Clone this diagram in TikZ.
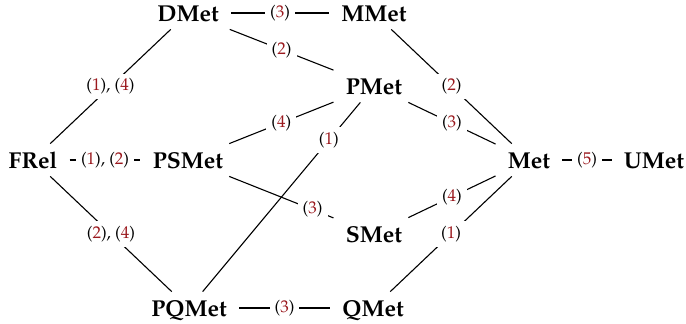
\documentclass[tikz,border=0pt]{standalone}
\usepackage[T1]{fontenc}
\renewcommand{\rmdefault}{ppl}
\definecolor{labred}{RGB}{155,25,30}
\newcommand{\rn}[1]{(\textcolor{labred}{#1})}
\tikzset{
  cls/.style={inner xsep=6pt, inner ysep=4pt, text height=8pt, text depth=0pt,
    font=\fontsize{11.5}{13}\selectfont\bfseries},
  lab/.style={fill=white, inner sep=2.5pt, font=\fontsize{8.5}{10}\selectfont},
  conn/.style={line width=0.55pt, black}
}
\begin{document}
\begin{tikzpicture}[x=0.5pt, y=-0.5pt]
\useasboundingbox (0,0) rectangle (686,323);
\node[cls] (DMet)  at (188,13)  {DMet};
\node[cls] (MMet)  at (374,13)  {MMet};
\node[cls] (PMet)  at (374,86)  {PMet};
\node[cls] (FRel)  at (33,160)  {FRel};
\node[cls] (PSMet) at (188,160) {PSMet};
\node[cls] (Met)   at (529,160) {Met};
\node[cls] (UMet)  at (654,160) {UMet};
\node[cls] (SMet)  at (374,234) {SMet};
\node[cls] (PQMet) at (189,308) {PQMet};
\node[cls] (QMet)  at (373,308) {QMet};

\draw[conn] (DMet) -- node[lab] {\rn{3}} (MMet);
\draw[conn] (DMet) -- node[lab] {\rn{2}} (PMet);
\draw[conn] (DMet) -- node[lab] {\rn{1}, \rn{4}} (FRel);
\draw[conn] (PMet) -- node[lab] {\rn{4}} (PSMet);
\draw[conn] (PMet) -- node[lab, pos=0.2] {\rn{1}} (PQMet);
\draw[conn] (MMet) -- node[lab] {\rn{2}} (Met);
\draw[conn] (PMet) -- node[lab] {\rn{3}} (Met);
\draw[conn] (FRel) -- node[lab] {\rn{1}, \rn{2}} (PSMet);
\draw[conn] (Met) -- node[lab] {\rn{5}} (UMet);
\draw[conn] (PSMet) -- node[lab, pos=0.8] {\rn{3}} (SMet);
\draw[conn] (SMet) -- node[lab] {\rn{4}} (Met);
\draw[conn] (Met) -- node[lab] {\rn{1}} (QMet);
\draw[conn] (FRel) -- node[lab] {\rn{2}, \rn{4}} (PQMet);
\draw[conn] (PQMet) -- node[lab] {\rn{3}} (QMet);
\end{tikzpicture}
\end{document}
